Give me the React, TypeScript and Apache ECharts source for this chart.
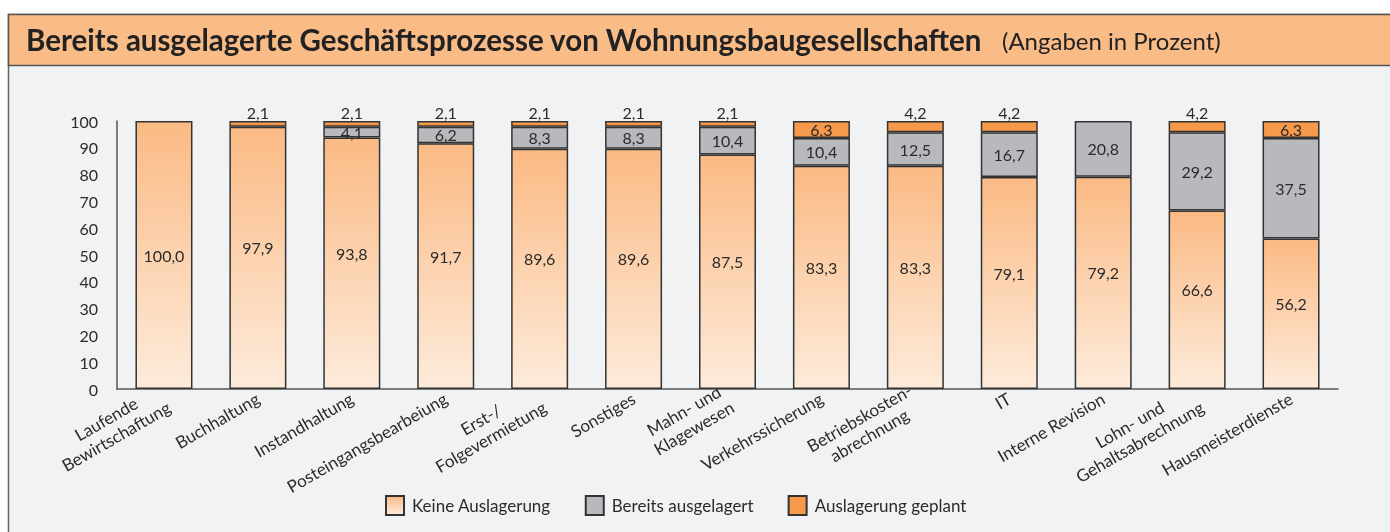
import React, { useEffect, useRef } from "react";
import * as echarts from "echarts";

const categories = [
  "Laufende\nBewirtschaftung",
  "Buchhaltung",
  "Instandhaltung",
  "Posteingangsbearbeiung",
  "Erst-/\nFolgevermietung",
  "Sonstiges",
  "Mahn- und\nKlagewesen",
  "Verkehrssicherung",
  "Betriebskosten-\nabrechnung",
  "IT",
  "Interne Revision",
  "Lohn- und\nGehaltsabrechnung",
  "Hausmeisterdienste",
];
const keineAuslagerung = [100.0, 97.9, 93.8, 91.7, 89.6, 89.6, 87.5, 83.3, 83.3, 79.1, 79.2, 66.6, 56.2];
const bereitsAusgelagert = [null, null, 4.1, 6.2, 8.3, 8.3, 10.4, 10.4, 12.5, 16.7, 20.8, 29.2, 37.5];
const auslagerungGeplant = [null, 2.1, 2.1, 2.1, 2.1, 2.1, 2.1, 6.3, 4.2, 4.2, null, 4.2, 6.3];
const seriesNames = ["Keine Auslagerung", "Bereits ausgelagert", "Auslagerung geplant"];
const titleMain = "Bereits ausgelagerte Geschäftsprozesse von Wohnungsbaugesellschaften";
const titleSub = "(Angaben in Prozent)";

const FONT = "Lato, 'Noto Sans', sans-serif";
const TXT = "#2b2b2b";
const fmt = (v: number) => v.toFixed(1).replace(".", ",");

export default function App() {
  const ref = useRef<HTMLDivElement>(null);
  useEffect(() => {
    const chart = echarts.init(ref.current!, null, { renderer: "svg" });
    const gradient = new echarts.graphic.LinearGradient(0, 0, 0, 1, [
      { offset: 0, color: "#FBBA84" },
      { offset: 1, color: "#FDEBDB" },
    ]);
    const border = { borderColor: "#333", borderWidth: 1.5 };
    const labelStyle = { color: TXT, fontSize: 16, fontFamily: FONT };
    chart.setOption({
      animation: false,
      graphic: [
        {
          type: "rect",
          z: -10,
          shape: { x: 8.5, y: 14.5, width: 1400, height: 530 },
          style: { fill: "#F1F2F4", stroke: "#666", lineWidth: 1.5 },
        },
        {
          type: "rect",
          z: -9,
          shape: { x: 8.5, y: 14.5, width: 1400, height: 51 },
          style: { fill: "#F9BC87", stroke: "#555", lineWidth: 1.5 },
        },
        {
          type: "text",
          left: 26,
          top: 24,
          style: {
            text: titleMain,
            fill: "#222",
            font: `bold 29.5px ${FONT}`,
          },
        },
        {
          type: "text",
          left: 1002,
          top: 28,
          style: {
            text: titleSub,
            fill: "#222",
            font: `24px ${FONT}`,
          },
        },
      ],
      grid: { left: 117, right: 52, top: 121, bottom: 143, containLabel: false },
      legend: {
        left: 385,
        top: 495,
        padding: 0,
        itemWidth: 18,
        itemHeight: 19,
        itemGap: 34,
        textStyle: { color: TXT, fontSize: 17, fontFamily: FONT, padding: [0, 0, 0, 3] },
        data: seriesNames.map((n) => ({ name: n, icon: "rect" })),
      },
      xAxis: {
        type: "category",
        data: categories,
        axisLine: { lineStyle: { color: "#555", width: 1.5 } },
        axisTick: { show: false },
        axisLabel: {
          rotate: 30,
          margin: 8,
          interval: 0,
          color: TXT,
          formatter: (v: string) =>
            v
              .split("\n")
              .map((l) => `{c|${l}}`)
              .join("\n"),
          rich: {
            c: { align: "center", fontSize: 17, lineHeight: 20, fontFamily: FONT, color: TXT },
          },
        },
      },
      yAxis: {
        type: "value",
        min: 0,
        max: 100,
        interval: 10,
        splitLine: { show: false },
        axisTick: { show: false },
        axisLine: { show: true, lineStyle: { color: "#555", width: 1.5 } },
        axisLabel: { color: TXT, fontSize: 16, fontFamily: FONT, margin: 19 },
      },
      series: [
        {
          name: seriesNames[0],
          type: "bar",
          stack: "a",
          barWidth: 57,
          itemStyle: { color: gradient, ...border },
          label: {
            show: true,
            position: "inside",
            ...labelStyle,
            formatter: (p: any) => fmt(p.value),
          },
          data: keineAuslagerung.map((v) => ({
            value: v,
            label: { offset: [0, v >= 100 ? 0 : -10] },
          })),
        },
        {
          name: seriesNames[1],
          type: "bar",
          stack: "a",
          barWidth: 57,
          itemStyle: { color: "#B8B9BD", ...border },
          label: {
            show: true,
            position: "inside",
            ...labelStyle,
            formatter: (p: any) => (p.value == null ? "" : fmt(p.value)),
          },
          data: bereitsAusgelagert,
        },
        {
          name: seriesNames[2],
          type: "bar",
          stack: "a",
          barWidth: 57,
          itemStyle: { color: "#F7994A", ...border },
          label: { show: true, ...labelStyle, formatter: (p: any) => (p.value == null ? "" : fmt(p.value)) },
          data: auslagerungGeplant.map((v) =>
            v == null
              ? null
              : {
                  value: v,
                  label: v > 5 ? { position: "inside" } : { position: "top", distance: 1 },
                }
          ),
        },
      ],
    });
    return () => chart.dispose();
  }, []);
  return (
    <div
      ref={ref}
      style={{ position: "fixed", left: 0, top: 0, width: 1390, height: 532 }}
    />
  );
}
